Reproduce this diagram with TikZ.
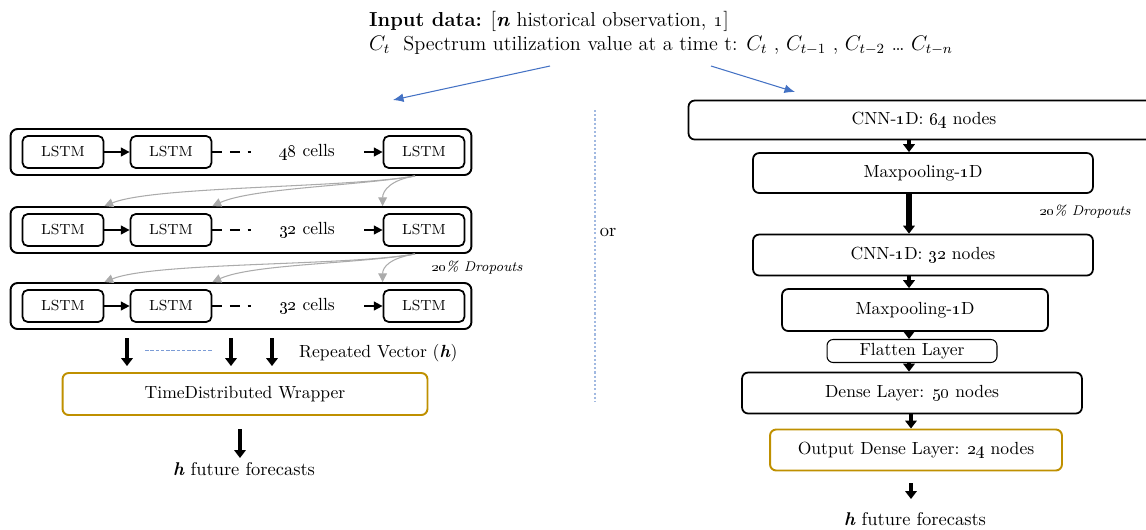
\documentclass[tikz,border=0pt]{standalone}
\usetikzlibrary{arrows.meta}
\definecolor{feedblue}{HTML}{4472C4}
\definecolor{wrapgold}{HTML}{BF9000}
\definecolor{dropgray}{HTML}{ABABAB}
\begin{document}
\begin{tikzpicture}[x=0.02cm,y=-0.02cm,
    box/.style={draw,line width=1pt,rounded corners=3.5pt,inner sep=0pt,font=\fontsize{10}{12}\selectfont},
    lstm/.style={draw,line width=1pt,rounded corners=3pt,inner sep=0pt,minimum width=1.62cm,minimum height=0.64cm,font=\fontsize{8.3}{10}\selectfont},
    row/.style={draw,line width=1.1pt,rounded corners=4pt,minimum width=9.22cm,minimum height=0.92cm},
    fwd/.style={line width=1pt,-{Triangle[length=5pt,width=5pt]}},
    drop/.style={dropgray,line width=0.6pt,-{Triangle[length=5pt,width=5pt]}},
    down/.style={line width=2.2pt,-{Triangle[length=4.5pt,width=6.5pt]}},
    feed/.style={feedblue,line width=0.6pt,-{Latex[length=6pt,width=5pt]}},
    txt/.style={font=\fontsize{10}{12}\selectfont},
    note/.style={font=\fontsize{8}{10}\selectfont\itshape}]
  \useasboundingbox (0,0) rectangle (1146,529);
  \clip (0,0) rectangle (1146,529);
  % input description
  \node[anchor=base west,font=\fontsize{11.5}{14}\selectfont] (head) at (363,26)
    {\textbf{Input data:} [\textbf{\textit{n}} historical observation, \oldstylenums{1}]};
  \node[anchor=base west,font=\fontsize{11.5}{14}\selectfont] (seq) at (363,50)
    {$C_t$\ \ Spectrum utilization value at a time t: $C_t$\ , $C_{t-1}$\ , $C_{t-2}$\ \dots\ $C_{t-n}$};
  \coordinate (f1) at (550,66); \coordinate (f2) at (393,100);
  \coordinate (g1) at (711,66); \coordinate (g2) at (795,92);
  \draw[feed] (f1) -- (f2);
  \draw[feed] (g1) -- (g2);
  % stacked lstm
  \foreach \r/\y/\n in {1/152/48,2/230/32,3/306/32} {
    \node[row] (r\r) at (241,\y) {};
    \node[lstm] (a\r) at (63,\y) {LSTM};
    \node[lstm] (b\r) at (171,\y) {LSTM};
    \node[lstm] (c\r) at (424,\y) {LSTM};
    \node[txt] (n\r) at (307,\y) {\oldstylenums{\n} cells};
    \coordinate (d\r) at (251,\y);
    \coordinate (e\r) at (364,\y);
    \coordinate (s\r) at (415,{\y+24});
    \draw[fwd] (a\r) -- (b\r);
    \draw[line width=1pt,dash pattern=on 5.5pt off 4.5pt] (b\r) -- (d\r);
    \draw[fwd] (e\r) -- (c\r);
  }
  \foreach \r/\s in {1/2,2/3} {
    \draw[drop] (s\r) .. controls +(-70,12) and +(50,-20) .. (a\s.north east |- r\s.north);
    \draw[drop] (s\r) .. controls +(-60,10) and +(40,-18) .. (b\s.north east |- r\s.north);
    \draw[drop] (s\r) .. controls +(-25,4) and +(0,-15) .. (c\s.north west |- r\s.north);
  }
  \node[note,anchor=west] (drop1) at (425,268) {\oldstylenums{20}\% Dropouts};
  \node[box,draw=wrapgold,line width=1.1pt,minimum width=7.3cm,minimum height=0.84cm] (tdw) at (245,394) {TimeDistributed Wrapper};
  \foreach \x [count=\i] in {127,231,272} {
    \coordinate (v\i) at (\x,338);
    \draw[down,shorten >=0.12cm] (v\i) -- (v\i |- tdw.north);
  }
  \coordinate (h1) at (145,350); \coordinate (h2) at (213,350);
  \draw[feedblue!70,line width=0.4pt,dash pattern=on 2pt off 1pt] (h1) -- (h2);
  \node[txt,anchor=west] (rep) at (293,353) {Repeated Vector (\textbf{\textit{h}})};
  \coordinate (o0) at (240,429); \coordinate (o1) at (240,458);
  \draw[down] (o0) -- (o1);
  \node[txt,font=\fontsize{10.5}{12}\selectfont] (fc1) at (244,469) {\textbf{\textit{h}} future forecasts};
  % divider
  \coordinate (div1) at (595,110); \coordinate (div2) at (595,402);
  \draw[feedblue!50,line width=1.2pt,dash pattern=on 1.2pt off 1.2pt] (div1) -- (div2);
  \node[txt,font=\fontsize{10.5}{12}\selectfont] (or) at (608,232) {or};
  % cnn branch
  \node[box,minimum width=9.42cm,minimum height=0.78cm] (cnn64) at (924,120) {CNN-\oldstylenums{1}D: \oldstylenums{64} nodes\hspace{0.1cm}};
  \node[box,minimum width=6.8cm,minimum height=0.8cm] (pool1) at (923,173) {Maxpooling-\oldstylenums{1}D};
  \node[box,minimum width=6.8cm,minimum height=0.82cm] (cnn32) at (923,255) {CNN-\oldstylenums{1}D: \oldstylenums{32} nodes};
  \node[box,minimum width=5.32cm,minimum height=0.84cm] (pool2) at (915,310) {Maxpooling-\oldstylenums{1}D};
  \node[box,line width=0.6pt,minimum width=3.4cm,minimum height=0.46cm] (flat) at (912,351) {Flatten Layer};
  \node[box,minimum width=6.8cm,minimum height=0.82cm] (dense) at (912,393) {Dense Layer: \oldstylenums{50} nodes};
  \node[box,draw=wrapgold,line width=1.1pt,minimum width=5.84cm,minimum height=0.82cm] (outd) at (916,450) {Output Dense Layer: \oldstylenums{24} nodes};
  \node[note,anchor=west] (drop2) at (1033,212) {\oldstylenums{20}\% Dropouts};
  \coordinate (ax) at (909,0);
  \coordinate (bx) at (911,0);
  \draw[down] (cnn64.south -| ax) -- (pool1.north -| ax);
  \draw[down,line width=3pt] (pool1.south -| ax) -- (cnn32.north -| ax);
  \draw[down] (cnn32.south -| ax) -- (pool2.north -| ax);
  \draw[down] (pool2.south -| ax) -- (flat.north -| ax);
  \draw[down] (flat.south -| ax) -- (dense.north -| ax);
  \draw[down] (dense.south -| bx) -- (outd.north -| bx);
  \coordinate (p0) at (911,483); \coordinate (p1) at (911,499);
  \draw[down] (p0) -- (p1);
  \node[txt,font=\fontsize{10.5}{12}\selectfont] (fc2) at (915,519) {\textbf{\textit{h}} future forecasts};
\end{tikzpicture}
\end{document}
